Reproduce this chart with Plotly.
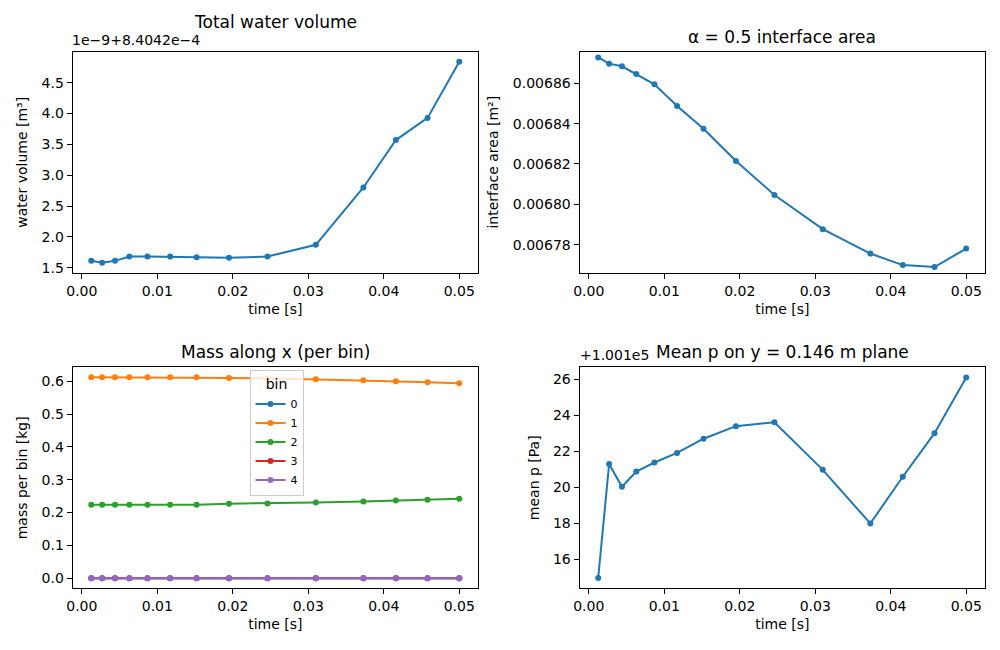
import plotly.graph_objects as go

# ---- data ----
time_s = [0.00125, 0.0027, 0.0044, 0.0063, 0.0087, 0.0117, 0.0152, 0.0195,
          0.0246, 0.0310, 0.0373, 0.0416, 0.0458, 0.0500]

# water volume, shown as (V - 8.4042e-4) / 1e-9
water_volume = [1.61, 1.58, 1.61, 1.68, 1.68, 1.68, 1.67, 1.66,
                1.68, 1.87, 2.80, 3.57, 3.93, 4.84]

interface_area = [0.0068728, 0.0068697, 0.0068684, 0.0068646, 0.0068595,
                  0.0068487, 0.0068374, 0.0068215, 0.0068046, 0.0067877,
                  0.0067756, 0.0067699, 0.0067689, 0.0067781]

bin_labels = ["0", "1", "2", "3", "4"]
mass_bin0 = [0.0] * 14
mass_bin1 = [0.612, 0.612, 0.612, 0.612, 0.612, 0.612, 0.612, 0.610,
             0.609, 0.606, 0.603, 0.600, 0.597, 0.594]
mass_bin2 = [0.224, 0.224, 0.224, 0.224, 0.224, 0.224, 0.224, 0.227,
             0.228, 0.231, 0.234, 0.237, 0.239, 0.242]
mass_bin3 = [0.0] * 14
mass_bin4 = [0.0] * 14
mass_bins = [mass_bin0, mass_bin1, mass_bin2, mass_bin3, mass_bin4]

# mean pressure, shown as p - 1.001e5
mean_p = [14.97, 21.31, 20.04, 20.89, 21.39, 21.92, 22.71, 23.41,
          23.63, 20.98, 18.00, 20.60, 23.02, 26.11]

colors = ["#1f77b4", "#ff7f0e", "#2ca02c", "#d62728", "#9467bd"]

FONT = "DejaVu Sans"
W, H = 1000, 650


def px_x(p):
    return p / W


def px_y(p):
    return 1 - p / H


fig = go.Figure()


def add_line(x, y, xa, ya, color, name=None, legend=False):
    fig.add_trace(go.Scatter(x=x, y=y, xaxis=xa, yaxis=ya, name=name,
                             mode="lines+markers",
                             line=dict(color=color, width=2),
                             marker=dict(size=6, color=color),
                             showlegend=legend))


add_line(time_s, water_volume, "x", "y", colors[0])
add_line(time_s, interface_area, "x2", "y2", colors[0])
for lab, vals, c in zip(bin_labels, mass_bins, colors):
    add_line(time_s, vals, "x3", "y3", c, name=lab, legend=True)
add_line(time_s, mean_p, "x4", "y4", colors[0])

xl = (px_x(67), px_x(475))
xr = (px_x(577), px_x(985))
yt = (px_y(274), px_y(52))
yb = (px_y(591), px_y(369))

xrange = [-0.00122, 0.0525]
tickfont = dict(family=FONT, size=14, color="black")
titlefont = dict(family=FONT, size=14, color="black")


def xaxis(domain, anchor, title):
    return dict(domain=domain, anchor=anchor, range=xrange,
                tickvals=[0, 0.01, 0.02, 0.03, 0.04, 0.05], tickformat=".2f",
                showline=True, linecolor="black", linewidth=1, mirror=True,
                ticks="outside", ticklen=5, tickcolor="black", showgrid=False,
                zeroline=False, tickfont=tickfont,
                title=dict(text=title, font=titlefont, standoff=6))


def yaxis(domain, anchor, title, rng, tv, fmt, standoff=10):
    return dict(domain=domain, anchor=anchor, range=rng, tickvals=tv, tickformat=fmt,
                showline=True, linecolor="black", linewidth=1, mirror=True,
                ticks="outside", ticklen=5, tickcolor="black", showgrid=False,
                zeroline=False, tickfont=tickfont,
                title=dict(text=title, font=titlefont, standoff=standoff))


fig.update_layout(
    width=W, height=H,
    margin=dict(l=0, r=0, t=0, b=0),
    paper_bgcolor="white", plot_bgcolor="white",
    font=dict(family=FONT, color="black"),
    xaxis=xaxis(xl, "y", "time [s]"),
    yaxis=yaxis(yt, "x", "water volume [m³]", [1.417, 5.003],
                [1.5, 2.0, 2.5, 3.0, 3.5, 4.0, 4.5], ".1f"),
    xaxis2=xaxis(xr, "y2", "time [s]"),
    yaxis2=yaxis(yt, "x2", "interface area [m²]", [0.0067661, 0.0068756],
                 [0.00678, 0.00680, 0.00682, 0.00684, 0.00686], ".5f"),
    xaxis3=xaxis(xl, "y3", "time [s]"),
    yaxis3=yaxis(yb, "x3", "mass per bin [kg]", [-0.0306, 0.6426],
                 [0, 0.1, 0.2, 0.3, 0.4, 0.5, 0.6], ".1f"),
    xaxis4=xaxis(xr, "y4", "time [s]"),
    yaxis4=yaxis(yb, "x4", "mean p [Pa]", [14.40, 26.68],
                 [16, 18, 20, 22, 24, 26], "d"),
    legend=dict(x=px_x(245), y=px_y(372), xanchor="left", yanchor="top",
                bgcolor="rgba(255,255,255,0.8)", bordercolor="#cccccc", borderwidth=1,
                font=dict(family=FONT, size=11, color="black"),
                title=dict(text="bin", side="top center",
                           font=dict(family=FONT, size=14, color="black")),
                tracegroupgap=0, itemwidth=30),
)

ann = [
    dict(text="Total water volume", x=px_x(271), y=px_y(22)),
    dict(text="α = 0.5 interface area", x=px_x(781), y=px_y(37)),
    dict(text="Mass along x (per bin)", x=px_x(271), y=px_y(354)),
    dict(text="Mean p on y = 0.146 m plane", x=px_x(781), y=px_y(354)),
]
for a in ann:
    fig.add_annotation(text=a["text"], x=a["x"], y=a["y"], xref="paper", yref="paper",
                       xanchor="center", yanchor="middle", showarrow=False,
                       font=dict(family=FONT, size=17, color="black"))

fig.add_annotation(text="1e−9+8.4042e−4", x=px_x(64), y=px_y(50), xref="paper", yref="paper",
                   xanchor="left", yanchor="bottom", showarrow=False,
                   font=dict(family=FONT, size=14, color="black"))
fig.add_annotation(text="+1.001e5", x=px_x(575), y=px_y(367), xref="paper", yref="paper",
                   xanchor="left", yanchor="bottom", showarrow=False,
                   font=dict(family=FONT, size=14, color="black"))

fig.write_html("out.html")
